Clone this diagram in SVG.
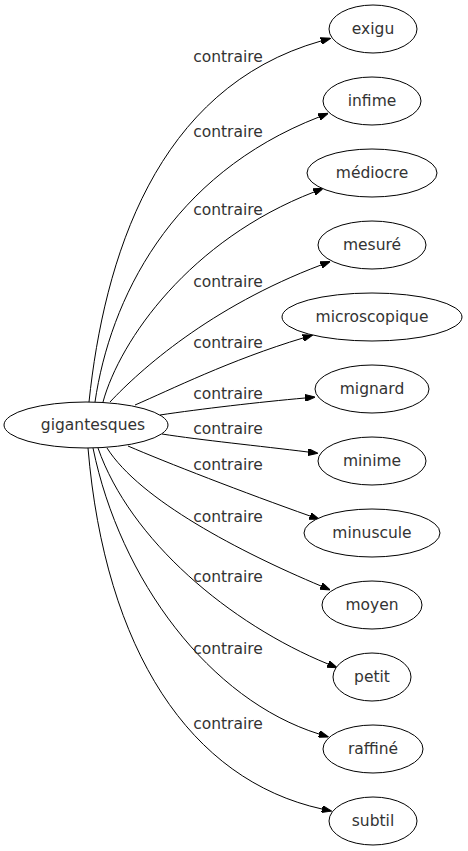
<svg xmlns="http://www.w3.org/2000/svg" width="468" height="851" viewBox="0 0 468 851">
<style>
.n ellipse{fill:#fff;stroke:#000;stroke-width:1}
text{font-family:"DejaVu Sans","Liberation Sans",sans-serif;font-size:15.5px;fill:#333;text-anchor:middle}
.e path{fill:none;stroke:#000;stroke-width:1;marker-end:url(#ah)}
</style>
<defs>
<marker id="ah" viewBox="0 0 10 7" refX="0" refY="3.5" markerWidth="10" markerHeight="7" markerUnits="userSpaceOnUse" orient="auto">
<polygon points="0,0 10,3.5 0,7" fill="#000" stroke="#000" stroke-width="1"/>
</marker>
</defs>
<rect width="468" height="851" fill="#fff"/>
<g class="e" id="edges">
<path d="M89,402 C104,260 155,88 321,41"/>
<path d="M95,402 C110,300 170,175 319,117"/>
<path d="M103,402 C120,340 190,240 314,192"/>
<path d="M110,402 C140,370 210,307 321,265"/>
<path d="M135,405 C170,390 230,360 303,338"/>
<path d="M160,415 C200,409 260,402 305,398"/>
<path d="M162,434 C200,440 260,446 308,452"/>
<path d="M128,446 C165,462 245,493 310,516"/>
<path d="M107,448 C140,500 240,552 321,586"/>
<path d="M98,448 C130,540 230,624 328,664"/>
<path d="M93,448 C120,580 210,700 319,734"/>
<path d="M88,448 C105,650 190,780 322,809"/>
<text x="228" y="62">contraire</text>
<text x="228" y="137">contraire</text>
<text x="228" y="215">contraire</text>
<text x="228" y="287">contraire</text>
<text x="228" y="348">contraire</text>
<text x="228" y="399">contraire</text>
<text x="228" y="434">contraire</text>
<text x="228" y="470">contraire</text>
<text x="228" y="522">contraire</text>
<text x="228" y="582">contraire</text>
<text x="228" y="654">contraire</text>
<text x="228" y="729">contraire</text>
</g>
<g class="n" id="gigantesques"><ellipse cx="86" cy="425" rx="82" ry="23"/><text x="93" y="430">gigantesques</text></g>
<g class="n" id="exigu"><ellipse cx="373" cy="29" rx="44" ry="24"/><text x="373" y="34">exigu</text></g>
<g class="n" id="infime"><ellipse cx="372" cy="101" rx="49" ry="24"/><text x="372" y="106">infime</text></g>
<g class="n" id="mediocre"><ellipse cx="372" cy="173" rx="65" ry="24"/><text x="372" y="178">médiocre</text></g>
<g class="n" id="mesure"><ellipse cx="372" cy="245" rx="54" ry="24"/><text x="372" y="250">mesuré</text></g>
<g class="n" id="microscopique"><ellipse cx="372" cy="317" rx="90" ry="24"/><text x="372" y="322">microscopique</text></g>
<g class="n" id="mignard"><ellipse cx="372" cy="389" rx="57" ry="24"/><text x="372" y="394">mignard</text></g>
<g class="n" id="minime"><ellipse cx="372" cy="461" rx="54" ry="24"/><text x="372" y="466">minime</text></g>
<g class="n" id="minuscule"><ellipse cx="372" cy="533" rx="68" ry="24"/><text x="372" y="538">minuscule</text></g>
<g class="n" id="moyen"><ellipse cx="372" cy="605" rx="50" ry="24"/><text x="372" y="610">moyen</text></g>
<g class="n" id="petit"><ellipse cx="372" cy="677" rx="39" ry="24"/><text x="372" y="682">petit</text></g>
<g class="n" id="raffine"><ellipse cx="373" cy="749" rx="50" ry="24"/><text x="373" y="754">raffiné</text></g>
<g class="n" id="subtil"><ellipse cx="373" cy="821" rx="44" ry="24"/><text x="373" y="826">subtil</text></g>
</svg>
